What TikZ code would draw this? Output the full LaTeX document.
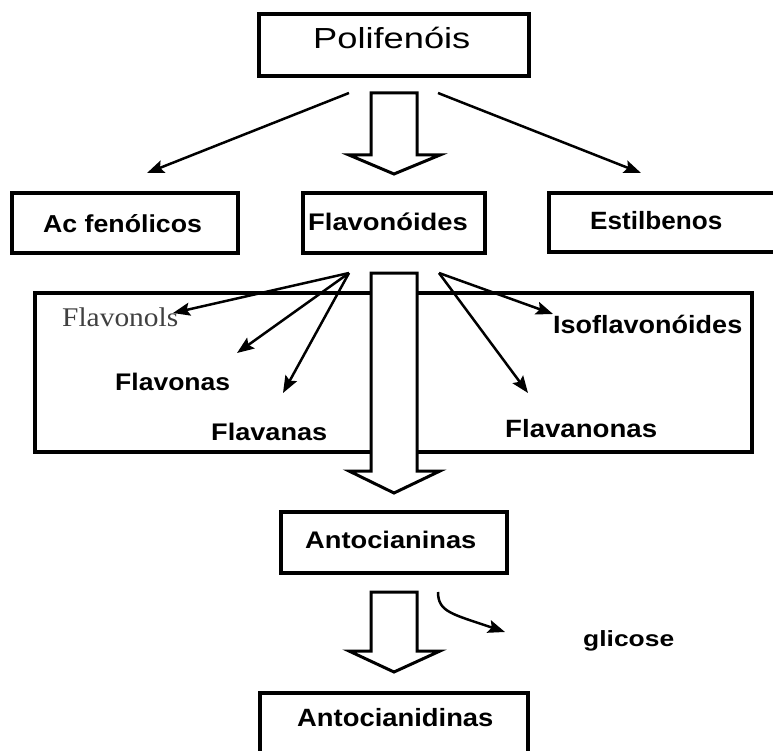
\documentclass[tikz,border=0pt]{standalone}
\usepackage{fontspec}
\setmainfont{Liberation Sans}
\newfontfamily\serifA{Liberation Serif}
\usetikzlibrary{arrows.meta}
\newcommand{\sxx}[2]{\scalebox{#1}[1]{#2}}
\tikzset{
  boxst/.style={draw, line width=3.2pt, inner sep=0pt},
  lbl/.style={anchor=base west, inner sep=0pt},
  thinar/.style={line width=2.5pt, -{Stealth[length=17pt,width=13pt,inset=3pt]}},
  blockar/.style={draw, line width=3pt, fill=white, line join=miter},
}
\begin{document}
\begin{tikzpicture}[x=1pt,y=-1pt]
\useasboundingbox (0,0) rectangle (773,751);
\clip (0,0) rectangle (773,751);
% boxes
\node[boxst, minimum width=270pt, minimum height=62pt] (poli) at (394,45) {};
\node[boxst, minimum width=226pt, minimum height=60pt] (acf) at (125,223) {};
\node[boxst, minimum width=182pt, minimum height=60pt] (flav) at (394,223) {};
\node[boxst, minimum width=241pt, minimum height=59pt] (est) at (669.5,222.5) {};
\node[boxst, minimum width=717pt, minimum height=159pt] (big) at (393.5,372.5) {};
\node[boxst, minimum width=226pt, minimum height=61pt] (anin) at (394,542.5) {};
\node[boxst, minimum width=268pt, minimum height=77pt] (anid) at (394,731.5) {};
% texts
\node[lbl, font=\fontsize{29}{30}\selectfont] (tpoli) at (313,49) {\sxx{1.25}{Polifenóis}};
\node[lbl, font=\fontsize{24.5}{26}\selectfont\bfseries] (tacf) at (43,233) {\sxx{1.09}{Ac fenólicos}};
\node[lbl, font=\fontsize{24}{26}\selectfont\bfseries] (tflav) at (308,231) {\sxx{1.14}{Flavonóides}};
\node[lbl, font=\fontsize{25}{26}\selectfont\bfseries] (test) at (590,230) {\sxx{1.045}{Estilbenos}};
\node[lbl, font=\fontsize{27}{28}\selectfont\serifA, text=black!75] (tfol) at (62,326) {\sxx{1.09}{Flavonols}};
\node[lbl, font=\fontsize{24}{26}\selectfont\bfseries] (tfona) at (115,390) {\sxx{1.105}{Flavonas}};
\node[lbl, font=\fontsize{24}{26}\selectfont\bfseries] (tfana) at (211,440) {\sxx{1.13}{Flavanas}};
\node[lbl, font=\fontsize{25}{26}\selectfont\bfseries] (tiso) at (553,333) {\sxx{1.08}{Isoflavonóides}};
\node[lbl, font=\fontsize{25}{26}\selectfont\bfseries] (tfnon) at (505,437) {\sxx{1.105}{Flavanonas}};
\node[lbl, font=\fontsize{24}{26}\selectfont\bfseries] (tanin) at (305,548) {\sxx{1.136}{Antocianinas}};
\node[lbl, font=\fontsize{22}{24}\selectfont\bfseries] (tgli) at (583,646) {\sxx{1.2}{glicose}};
\node[lbl, font=\fontsize{25}{26}\selectfont\bfseries] (tanid) at (297,726) {\sxx{1.095}{Antocianidinas}};
% connector end points
\coordinate (pL) at (349,93);
\coordinate (pR) at (438,93);
\coordinate (acfT) at (147,173);
\coordinate (estT) at (641,173);
\coordinate (fL) at (349,273);
\coordinate (fR) at (439,273);
\coordinate (folT) at (173,313);
\coordinate (fonaT) at (237,353);
\coordinate (fanaT) at (283,393);
\coordinate (isoT) at (553,314);
\coordinate (fnonT) at (528,393);
\coordinate (gS) at (438,592);
\coordinate (gT) at (505,632);
% thin arrows
\draw[thinar] (pL) -- (acfT);
\draw[thinar] (pR) -- (estT);
\draw[thinar] (fL) -- (folT);
\draw[thinar] (fL) -- (fonaT);
\draw[thinar] (fL) -- (fanaT);
\draw[thinar] (fR) -- (isoT);
\draw[thinar] (fR) -- (fnonT);
\draw[thinar] (gS) .. controls (438,612) and (452,614) .. (gT);
% block arrows
\draw[blockar] (371,93) -- (417,93) -- (417,155) -- (440,155) -- (394,174) -- (349,155) -- (371,155) -- cycle;
\draw[blockar] (371,273) -- (417,273) -- (417,471) -- (440,471) -- (394,493) -- (349,471) -- (371,471) -- cycle;
\draw[blockar] (371,592) -- (417,592) -- (417,651) -- (440,651) -- (394,672) -- (349,651) -- (371,651) -- cycle;
\end{tikzpicture}
\end{document}
